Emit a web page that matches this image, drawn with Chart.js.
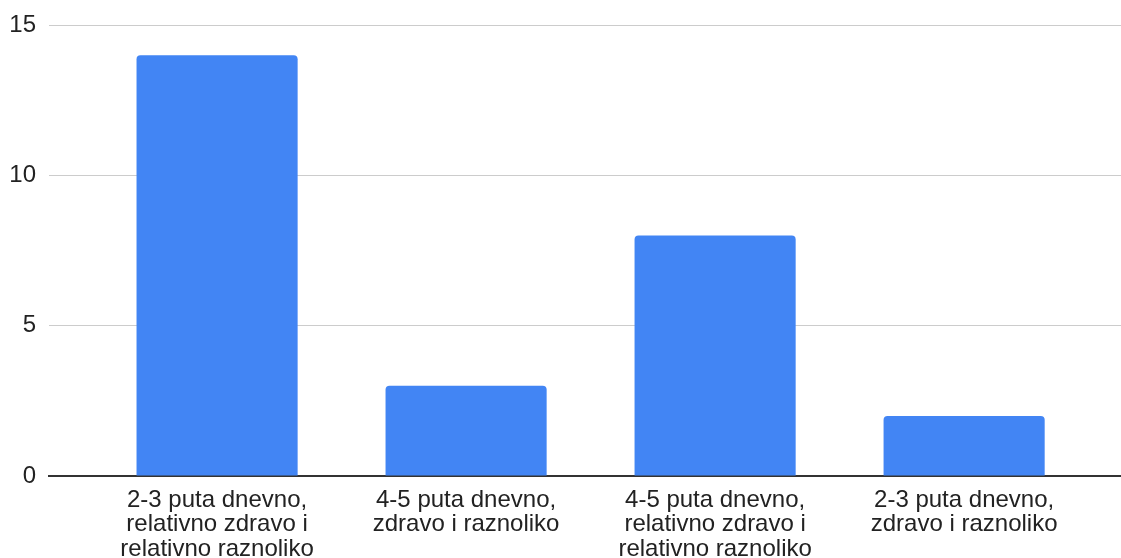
<!DOCTYPE html>
<html>
<head>
<meta charset="utf-8">
<script src="https://cdn.jsdelivr.net/npm/chart.js@4"></script>
<style>
  html, body { margin: 0; padding: 0; background: #fff; }
  #wrap { width: 1121px; height: 558px; }
</style>
</head>
<body>
<div id="wrap"><canvas id="grafikon" width="1121" height="558"></canvas></div>
<script>
// odgovori po kategoriji (svaka oznaka razbijena u retke)
const kategorije = [
  ['2-3 puta dnevno,', 'relativno zdravo i', 'relativno raznoliko'],
  ['4-5 puta dnevno,', 'zdravo i raznoliko'],
  ['4-5 puta dnevno,', 'relativno zdravo i', 'relativno raznoliko'],
  ['2-3 puta dnevno,', 'zdravo i raznoliko']
];
const odgovori = [14, 3, 8, 2];
const yMax = 15;
const yKorak = 5;

const tocke = odgovori.map((v, i) => ({ x: i, y: v }));

const font = { family: '"Liberation Sans", Arial, sans-serif', size: 24, lineHeight: 1.02 };

new Chart(document.getElementById('grafikon'), {
  type: 'bar',
  data: {
    datasets: [{
      data: tocke,
      backgroundColor: '#4285F4',
      borderRadius: { topLeft: 4, topRight: 4 },
      borderSkipped: 'start',
      barPercentage: 0.647,
      categoryPercentage: 1
    }]
  },
  options: {
    responsive: false,
    animation: false,
    layout: { padding: { top: 24, right: 0, bottom: 0, left: 0 } },
    plugins: { legend: { display: false }, tooltip: { enabled: false } },
    scales: {
      x: {
        type: 'linear',
        offset: false,
        z: 1,
        min: -0.675,
        max: 3.63,
        grid: { display: false, drawTicks: false },
        border: { color: '#333', width: 2 },
        ticks: {
          stepSize: 1,
          includeBounds: false,
          autoSkip: false,
          maxRotation: 0,
          padding: 12,
          color: '#222',
          font: font,
          callback: (v) => kategorije[v] || ''
        },
        afterFit: (s) => { s.height = 82; }
      },
      y: {
        min: 0,
        max: yMax,
        grid: { color: '#ccc', lineWidth: 1, drawTicks: false },
        border: { display: false },
        ticks: {
          stepSize: yKorak,
          padding: 13,
          color: '#222',
          font: font
        },
        afterFit: (s) => { s.width = 49; }
      }
    }
  }
});
</script>
</body>
</html>
